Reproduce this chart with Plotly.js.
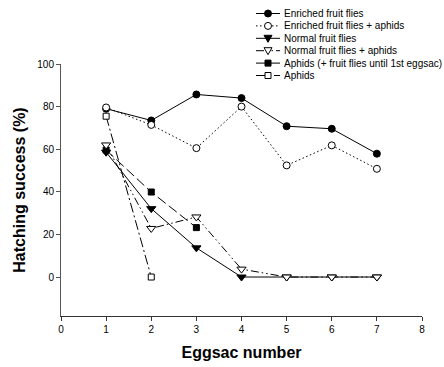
<!DOCTYPE html>
<html>
<head>
<meta charset="utf-8">
<script src="https://cdn.plot.ly/plotly-3.0.1.min.js"></script>
<style>html,body{margin:0;padding:0;background:#fff;}#chart{width:444px;height:367px;}</style>
</head>
<body>
<div id="chart"></div>
<script>
// ---- data ----
var seriesNames = [
  "Enriched fruit flies",
  "Enriched fruit flies + aphids",
  "Normal fruit flies",
  "Normal fruit flies + aphids",
  "Aphids (+ fruit flies until 1st eggsac)",
  "Aphids"
];
var enrichedX = [1, 2, 3, 4, 5, 6, 7];
var enrichedY = [79, 73.5, 85.7, 84, 70.8, 69.6, 57.9];
var enrichedAphidsX = [1, 2, 3, 4, 5, 6, 7];
var enrichedAphidsY = [79.6, 71.4, 60.5, 80, 52.4, 61.8, 50.8];
var normalX = [1, 2, 3, 4, 5, 6, 7];
var normalY = [58.6, 32.1, 13.7, 0, 0, 0, 0];
var normalAphidsX = [1, 2, 3, 4, 5, 6, 7];
var normalAphidsY = [62, 22.8, 28.2, 3.7, 0, 0, 0];
var aphidsFfX = [1, 2, 3];
var aphidsFfY = [59.6, 39.9, 23.2];
var aphidsX = [1, 2];
var aphidsY = [75.5, 0];
var xTicks = [0, 1, 2, 3, 4, 5, 6, 7, 8];
var yTicks = [0, 20, 40, 60, 80, 100];

// ---- styles ----
var styles = [
  {dash: "solid", symbol: "circle", fill: "#000", size: 7, shape: "circle"},
  {dash: "1.5px,2.5px", symbol: "circle", fill: "#fff", size: 7, shape: "circle"},
  {dash: "solid", symbol: "triangle-down", fill: "#000", size: 8, shape: "tri"},
  {dash: "8px,3px,1.5px,3px,1.5px,3px", symbol: "triangle-down", fill: "#fff", size: 8, shape: "tri"},
  {dash: "10px,4px", symbol: "square", fill: "#000", size: 6, shape: "square"},
  {dash: "10px,3px,2px,3px", symbol: "square", fill: "#fff", size: 6, shape: "square"}
];
var xs = [enrichedX, enrichedAphidsX, normalX, normalAphidsX, aphidsFfX, aphidsX];
var ys = [enrichedY, enrichedAphidsY, normalY, normalAphidsY, aphidsFfY, aphidsY];
var drawOrder = [5, 4, 2, 3, 0, 1];

var traces = drawOrder.map(function (i) {
  return {
    x: xs[i], y: ys[i], name: seriesNames[i], type: "scatter", mode: "lines+markers",
    line: {color: "#000", width: 1, dash: styles[i].dash},
    marker: {symbol: styles[i].symbol, size: styles[i].size, color: styles[i].fill,
             line: {color: "#000", width: 1}},
    showlegend: false, cliponaxis: false
  };
});

// ---- legend (built manually to match the compact row spacing) ----
var L = 61, R = 422, T = 64, B = 316;
function px2x(p) { return (p - L) / (R - L); }
function py2y(p) { return (B - p) / (B - T); }
var shapes = [], annotations = [];
seriesNames.forEach(function (name, i) {
  var rowY = py2y(13.5 + 12.4 * i);
  var st = styles[i];
  shapes.push({type: "line", xref: "paper", yref: "paper", x0: px2x(256), x1: px2x(280), y0: rowY, y1: rowY,
               line: {color: "#000", width: 1, dash: st.dash}});
  var base = {xref: "paper", yref: "paper", xsizemode: "pixel", ysizemode: "pixel",
              xanchor: px2x(268), yanchor: rowY, fillcolor: st.fill, line: {color: "#000", width: 1}};
  var s = Object.assign({}, base);
  if (st.shape === "circle") { s.type = "circle"; s.x0 = -3.5; s.x1 = 3.5; s.y0 = -3.5; s.y1 = 3.5; }
  else if (st.shape === "square") { s.type = "rect"; s.x0 = -3; s.x1 = 3; s.y0 = -3; s.y1 = 3; }
  else { s.type = "path"; s.path = "M -4 3 L 4 3 L 0 -4 Z"; }
  shapes.push(s);
  annotations.push({text: name, xref: "paper", yref: "paper", x: px2x(282), y: rowY,
                    xanchor: "left", yanchor: "middle", showarrow: false,
                    font: {family: "Liberation Sans, Arial, sans-serif", size: 10, color: "#000"}});
});

var layout = {
  width: 444, height: 367,
  margin: {l: L, r: 444 - R, t: T, b: 367 - B, pad: 0},
  paper_bgcolor: "#fff", plot_bgcolor: "#fff",
  font: {family: "Liberation Sans, Arial, sans-serif", size: 10, color: "#000"},
  showlegend: false,
  xaxis: {
    range: [0, 8], tickvals: xTicks, ticktext: xTicks.map(String),
    showgrid: false, zeroline: false, showline: true, linecolor: "#333", linewidth: 1,
    ticks: "outside", ticklen: 4, tickcolor: "#333", tickfont: {size: 10},
    title: {text: "<b>Eggsac number</b>", font: {size: 16}, standoff: 12}
  },
  yaxis: {
    range: [-18.3, 100], tickvals: yTicks, ticktext: yTicks.map(String),
    showgrid: false, zeroline: false, showline: true, linecolor: "#555", linewidth: 1,
    ticks: "outside", ticklen: 4, tickcolor: "#555", tickfont: {size: 10},
    title: {text: "<b>Hatching success (%)</b>", font: {size: 16}, standoff: 7}
  },
  shapes: shapes,
  annotations: annotations
};

Plotly.newPlot("chart", traces, layout, {staticPlot: true, displayModeBar: false});
</script>
</body>
</html>
